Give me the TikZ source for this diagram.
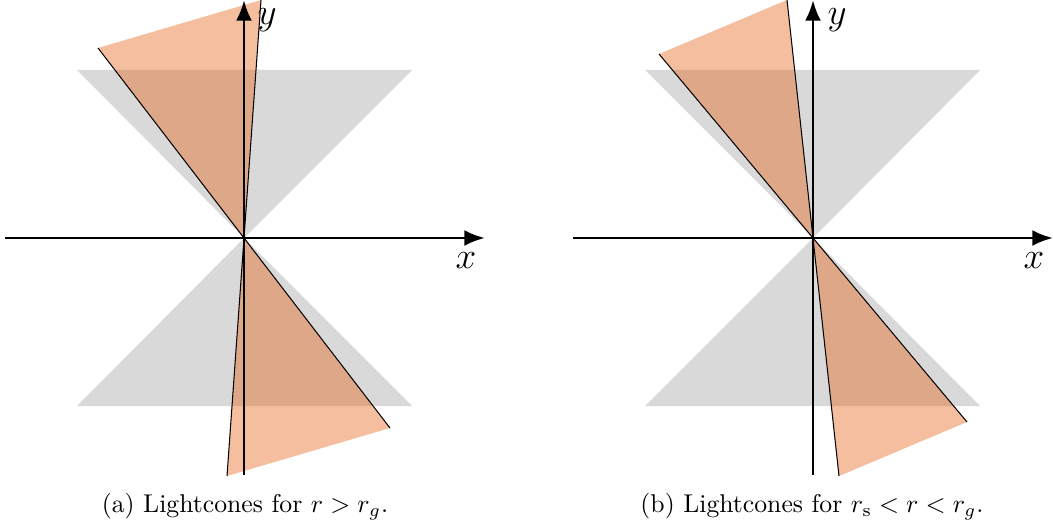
\documentclass[tikz,border=0pt]{standalone}
\usetikzlibrary{arrows.meta}
\begin{document}
\begin{tikzpicture}[x=0.389pt,y=-0.389pt,
  cone/.style={fill=black,fill opacity=0.15},
  lcone/.style={fill={rgb,255:red,230;green,101;blue,25},fill opacity=0.42},
  edgeline/.style={draw=black,line width=0.4pt},
  axisline/.style={line width=1.15pt,-{Latex[length=8pt,width=6.2pt]}},
  lab/.style={font=\Large,inner sep=0pt}]
\useasboundingbox (0,0) rectangle (1053,527);
% ---- panel (a)
\coordinate (Oa) at (244,238);
\coordinate (a1) at (98,48);
\coordinate (a2) at (261,0);
\coordinate (a3) at (390,428);
\coordinate (a4) at (227,476);
\fill[cone] (Oa) -- (77,70) -- (412,70) -- cycle;
\fill[cone] (Oa) -- (77,406) -- (412,406) -- cycle;
\fill[lcone] (Oa) -- (a1) -- (a2) -- cycle;
\fill[lcone] (Oa) -- (a3) -- (a4) -- cycle;
\draw[edgeline] (a1) -- (a3);
\draw[edgeline] (a2) -- (a4);
\coordinate (xa0) at (5,238);
\coordinate (xa1) at (485,238);
\coordinate (ya0) at (244,475);
\coordinate (ya1) at (244,0);
\draw[axisline] (xa0) -- (xa1);
\draw[axisline] (ya0) -- (ya1);
\node[lab] (xla) at (466,261) {$x$};
\node[lab] (yla) at (267,20) {$y$};
\node (capa) at (245,507) {(a) Lightcones for $r > r_g$.};
% ---- panel (b)
\coordinate (Ob) at (813,238);
\coordinate (b1) at (659,54);
\coordinate (b2) at (787,0);
\coordinate (b3) at (967,422);
\coordinate (b4) at (839,476);
\fill[cone] (Ob) -- (645,70) -- (980,70) -- cycle;
\fill[cone] (Ob) -- (645,406) -- (980,406) -- cycle;
\fill[lcone] (Ob) -- (b1) -- (b2) -- cycle;
\fill[lcone] (Ob) -- (b3) -- (b4) -- cycle;
\draw[edgeline] (b1) -- (b3);
\draw[edgeline] (b2) -- (b4);
\coordinate (xb0) at (573,238);
\coordinate (xb1) at (1053,238);
\coordinate (yb0) at (813,475);
\coordinate (yb1) at (813,0);
\draw[axisline] (xb0) -- (xb1);
\draw[axisline] (yb0) -- (yb1);
\node[lab] (xlb) at (1034,261) {$x$};
\node[lab] (ylb) at (837,20) {$y$};
\node (capb) at (812,507) {(b) Lightcones for $r_{\mathrm{s}} < r < r_g$.};
\end{tikzpicture}
\end{document}
